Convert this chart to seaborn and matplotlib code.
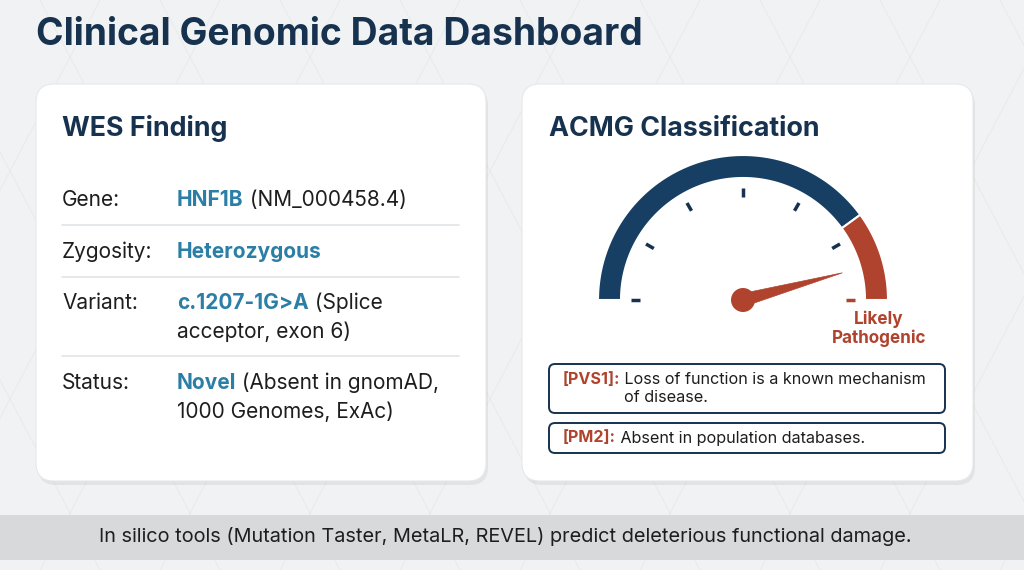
import numpy as np
import matplotlib
matplotlib.use("Agg")
import matplotlib.pyplot as plt
from matplotlib.patches import FancyBboxPatch, Polygon, Circle
import seaborn as sns

sns.set_theme(style="white", font="Inter")

# ---------------- data ----------------
title = "Clinical Genomic Data Dashboard"
left_title = "WES Finding"
row_labels = ["Gene:", "Zygosity:", "Variant:", "Status:"]
row_highlight = ["HNF1B", "Heterozygous", "c.1207-1G>A", "Novel"]
row_rest = [" (NM_000458.4)", "", " (Splice", " (Absent in gnomAD,"]
row_cont = ["", "", "acceptor, exon 6)", "1000 Genomes, ExAc)"]
right_title = "ACMG Classification"
gauge_bounds = [0.0, 0.80, 1.0]          # fraction of dial: navy / red
gauge_colors = ["#173f63", "#b0432d"]
gauge_ticks = [0, 1/6, 2/6, 3/6, 4/6, 5/6, 1]
tick_colors = ["navy", "navy", "navy", "navy", "navy", "navy", "red"]
needle_value = 0.915
gauge_label = "Likely\nPathogenic"
criteria_codes = ["[PVS1]:", "[PM2]:"]
criteria_lines = [["Loss of function is a known mechanism", "of disease."], ["Absent in population databases."]]
footer = "In silico tools (Mutation Taster, MetaLR, REVEL) predict deleterious functional damage."

NAVY = "#16324f"
BLUE = "#2b7ea6"
RED = "#b0432d"
TXT = "#1e1e1e"

fig = plt.figure(figsize=(10.24, 5.70), dpi=100)
fig.patch.set_facecolor("#f0f2f3")
ax = fig.add_axes([0, 0, 1, 1])
ax.set_xlim(0, 1024); ax.set_ylim(570, 0); ax.axis("off")

# faint background lines
for x0 in range(-200, 1200, 120):
    ax.plot([x0, x0 + 300], [0, 570], color="#e8eaec", lw=0.7, zorder=0)
    ax.plot([x0 + 300, x0], [0, 570], color="#e8eaec", lw=0.7, zorder=0)

def card(x, y, w, h):
    ax.add_patch(FancyBboxPatch((x + 2, y + 4), w, h, boxstyle="round,pad=0,rounding_size=18",
                                fc="#000000", ec="none", alpha=0.06, zorder=1))
    ax.add_patch(FancyBboxPatch((x, y), w, h, boxstyle="round,pad=0,rounding_size=18",
                                fc="white", ec="#e6e8ea", lw=0.8, zorder=2))

card(36, 84, 450, 397)
card(522, 84, 451, 397)

ax.text(36, 35, title, fontsize=26.8, fontweight="bold", color=NAVY, va="center", ha="left", zorder=3)

# left card
ax.text(62, 129, left_title, fontsize=19.3, fontweight="bold", color=NAVY, va="center", zorder=3)
row_y = [200, 252, 303, 383]
for lab, hi, rest, cont, y in zip(row_labels, row_highlight, row_rest, row_cont, row_y):
    ax.text(62, y, lab, fontsize=15, color=TXT, va="center", zorder=3)
    t = ax.text(177, y, hi, fontsize=15, fontweight="bold", color=BLUE, va="center", zorder=3)
    if rest:
        ax.annotate(rest, xy=(1, 0.5), xycoords=t, fontsize=15, color=TXT, va="center", zorder=3)
    if cont:
        ax.text(177, y + 29, cont, fontsize=15, color=TXT, va="center", zorder=3)
for y in [225, 277, 356]:
    ax.plot([62, 459], [y, y], color="#e2e5e8", lw=1.2, zorder=3)

# right card
ax.text(549, 129, right_title, fontsize=19.3, fontweight="bold", color=NAVY, va="center", zorder=3)

cx, cy, R_out, R_in = 743, 300, 145, 122
def pt(frac, r):
    a = np.pi * (1 - frac)
    return cx + r * np.cos(a), cy - r * np.sin(a)

for (f0, f1), col in zip(zip(gauge_bounds[:-1], gauge_bounds[1:]), gauge_colors):
    fs = np.linspace(f0, f1, 100)
    outer = [pt(f, R_out) for f in fs]
    inner = [pt(f, R_in) for f in fs[::-1]]
    ax.add_patch(Polygon(outer + inner, closed=True, fc=col, ec="white", lw=1.5, zorder=3))

for f, tcn in zip(gauge_ticks, tick_colors):
    col = RED if tcn == "red" else NAVY
    p0, p1 = pt(f, 103), pt(f, 112)
    ax.plot([p0[0], p1[0]], [p0[1], p1[1]], color=col, lw=2.5, solid_capstyle="butt", zorder=4)

a = np.pi * (1 - needle_value)
tip = (cx + 103 * np.cos(a), cy - 103 * np.sin(a))
perp = np.array([np.sin(a), np.cos(a)])
base1 = np.array([cx, cy]) + 6.5 * perp
base2 = np.array([cx, cy]) - 6.5 * perp
ax.add_patch(Polygon([tip, tuple(base1), tuple(base2)], closed=True, fc=RED, ec=RED, lw=0.5, zorder=5))
ax.add_patch(Circle((cx, cy), 12, fc=RED, ec="none", zorder=6))

ax.text(879, 329, gauge_label, fontsize=12.3, fontweight="bold", color=RED, ha="center", va="center",
        linespacing=1.1, zorder=4)

boxes = [(364, 49), (423, 30)]
for (by, bh), code, lines in zip(boxes, criteria_codes, criteria_lines):
    ax.add_patch(FancyBboxPatch((549, by), 396, bh, boxstyle="round,pad=0,rounding_size=6",
                                fc="white", ec=NAVY, lw=1.4, zorder=3))
    tc = ax.text(563, by + 15, code, fontsize=11.6, fontweight="bold", color=RED, va="center", zorder=4)
    t1 = ax.annotate(" " + lines[0], xy=(1, 0.5), xycoords=tc, fontsize=11.6, color=TXT, va="center", zorder=4)
    if len(lines) > 1:
        fig.canvas.draw()
        bb = t1.get_window_extent()
        x_start = ax.transData.inverted().transform((bb.x0, 0))[0]
        ax.text(x_start + 4, by + 34, lines[1], fontsize=11.6, color=TXT, va="center", zorder=4)

# footer
ax.add_patch(plt.Rectangle((0, 515), 1024, 45, fc="#d7d9db", ec="none", zorder=2))
ax.text(505, 537, footer, fontsize=14.3, color=TXT, ha="center", va="center", zorder=3)

fig.savefig("out.png", dpi=100, facecolor=fig.get_facecolor())
